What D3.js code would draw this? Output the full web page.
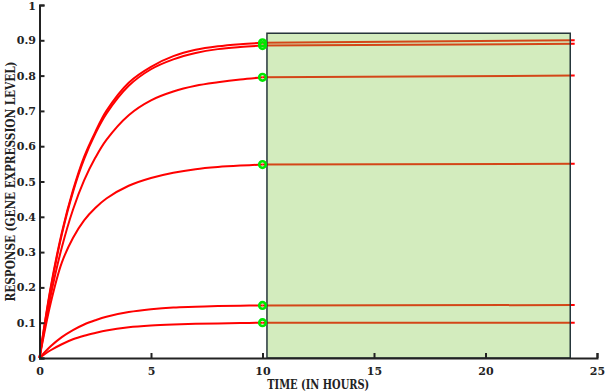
<!DOCTYPE html>
<html>
<head>
<meta charset="utf-8">
<script src="https://cdn.jsdelivr.net/npm/d3@7"></script>
<style>
  body { margin: 0; background: #fff; }
  svg text { font-family: "DejaVu Serif", serif; font-weight: bold; fill: #222; }
</style>
</head>
<body>
<div id="chart"></div>
<script>
// time points (hours) for the rising phase
var riseTimes = [0, 0.5, 1, 1.5, 2, 2.5, 3, 4, 5, 6, 7, 8, 9, 10];
var series1 = [0, 0.20, 0.355, 0.475, 0.57, 0.64, 0.70, 0.78, 0.825, 0.855, 0.873, 0.883, 0.889, 0.893];
var series2 = [0, 0.195, 0.35, 0.47, 0.563, 0.635, 0.692, 0.771, 0.818, 0.846, 0.864, 0.875, 0.881, 0.885];
var series3 = [0, 0.176, 0.313, 0.42, 0.503, 0.567, 0.618, 0.688, 0.73, 0.755, 0.771, 0.781, 0.789, 0.795];
var series4 = [0, 0.155, 0.27, 0.34, 0.39, 0.425, 0.452, 0.488, 0.51, 0.525, 0.535, 0.541, 0.545, 0.548];
var series5 = [0, 0.033, 0.059, 0.079, 0.095, 0.107, 0.117, 0.13, 0.138, 0.143, 0.145, 0.147, 0.148, 0.149];
var series6 = [0, 0.022, 0.039, 0.053, 0.063, 0.071, 0.078, 0.087, 0.092, 0.095, 0.097, 0.098, 0.099, 0.1];

// steady phase: value at t=10 and at t=24
var flatTimes = [10, 24];
var flatValues = [[0.893, 0.900], [0.885, 0.890], [0.795, 0.800], [0.548, 0.550], [0.149, 0.150], [0.1, 0.1]];

// green region (hours / response)
var regionX = [10.2, 23.8];
var regionTop = 0.92;

var xTicks = [0, 5, 10, 15, 20, 25];
var yTicks = [0, 0.1, 0.2, 0.3, 0.4, 0.5, 0.6, 0.7, 0.8, 0.9, 1];

var W = 605, H = 392;
var margin = {top: 5, right: 8, bottom: 34, left: 39.5};

var x = d3.scaleLinear().domain([0, 25]).range([margin.left, W - margin.right]);
var y = d3.scaleLinear().domain([0, 1]).range([H - margin.bottom, margin.top]);

var svg = d3.select("#chart").append("svg").attr("width", W).attr("height", H);

var allRise = [series1, series2, series3, series4, series5, series6];

var line = d3.line()
    .x(function(d) { return x(d[0]); })
    .y(function(d) { return y(d[1]); })
    .curve(d3.curveCatmullRom.alpha(0.5));

var curves = svg.append("g").classed("curves", true);

allRise.forEach(function(s, i) {
    var pts = riseTimes.map(function(t, j) { return [t, s[j]]; });
    curves.append("path")
        .attr("d", line(pts))
        .attr("fill", "none")
        .attr("stroke", "#ff0000")
        .attr("stroke-width", 2);
    var flat = flatTimes.map(function(t, j) { return [t, flatValues[i][j]]; });
    curves.append("path")
        .attr("d", line(flat))
        .attr("fill", "none")
        .attr("stroke", "#ff0000")
        .attr("stroke-width", 2);
});

// shaded region sits above the lines, tinting them orange
svg.append("rect")
    .attr("x", x(regionX[0]))
    .attr("y", y(regionTop))
    .attr("width", x(regionX[1]) - x(regionX[0]))
    .attr("height", y(0) - y(regionTop))
    .attr("fill", "rgb(130,200,70)")
    .attr("fill-opacity", 0.35)
    .attr("stroke", "#25353a")
    .attr("stroke-width", 1.5);

// markers at t = 10
svg.append("g").selectAll("circle")
    .data(flatValues)
    .enter()
    .append("circle")
        .attr("cx", x(10))
        .attr("cy", function(d) { return y(d[0]); })
        .attr("r", 3.3)
        .attr("fill", "none")
        .attr("stroke", "#00e600")
        .attr("stroke-width", 2.6);

// axes
var axisColor = "#222";
var xAxis = svg.append("g")
    .attr("transform", "translate(0," + y(0) + ")")
    .call(d3.axisBottom(x).tickValues(xTicks).tickSize(-5).tickPadding(9).tickFormat(d3.format("d")));
var yAxis = svg.append("g")
    .attr("transform", "translate(" + x(0) + ",0)")
    .call(d3.axisLeft(y).tickValues(yTicks).tickSize(-5).tickPadding(3.5).tickFormat(function(d) { return d === 0 || d === 1 ? d : d3.format(".1f")(d); }));

[xAxis, yAxis].forEach(function(a) {
    a.select(".domain").attr("stroke", axisColor).attr("stroke-width", 2);
    a.selectAll(".tick line").attr("stroke", axisColor).attr("stroke-width", 2);
    a.selectAll(".tick text").style("font-size", "11px").attr("fill", axisColor);
});
yAxis.selectAll(".tick text").filter(function(d) { return d === 1; }).attr("dy", "0.45em");

svg.append("text")
    .attr("x", (x(0) + x(25)) / 2)
    .attr("y", 389)
    .attr("text-anchor", "middle")
    .attr("textLength", 102)
    .attr("lengthAdjust", "spacingAndGlyphs")
    .style("font-size", "12px")
    .text("TIME (IN HOURS)");

svg.append("text")
    .attr("transform", "translate(15," + ((y(0) + y(1)) / 2) + ") rotate(-90)")
    .attr("text-anchor", "middle")
    .attr("textLength", 240)
    .attr("lengthAdjust", "spacingAndGlyphs")
    .style("font-size", "12px")
    .text("RESPONSE (GENE EXPRESSION LEVEL)");
</script>
</body>
</html>
